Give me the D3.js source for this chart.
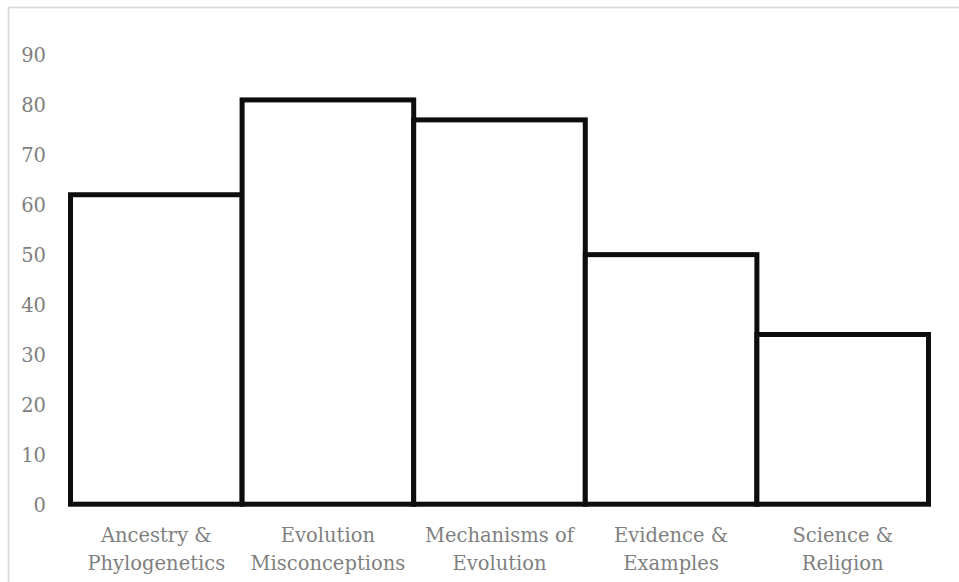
<!DOCTYPE html>
<html>
<head>
<meta charset="utf-8">
<script src="https://cdn.jsdelivr.net/npm/d3@7"></script>
<style>
  html, body { margin: 0; padding: 0; background: #ffffff; }
  svg { display: block; }
  .tick text, .cat-label { font-family: "DejaVu Serif", serif; fill: #7f7f7f; }
</style>
</head>
<body>
<svg id="chart" width="959" height="582"></svg>
<script>
// Topic categories (each label split over two lines)
const categories = [
  ["Ancestry &", "Phylogenetics"],
  ["Evolution", "Misconceptions"],
  ["Mechanisms of", "Evolution"],
  ["Evidence &", "Examples"],
  ["Science &", "Religion"]
];
const values = [62, 81, 77, 50, 34];
const yTicks = [0, 10, 20, 30, 40, 50, 60, 70, 80, 90];

const svg = d3.select("#chart");

// Chart area frame
svg.append("rect")
  .attr("x", 8.5).attr("y", 7.5)
  .attr("width", 1200).attr("height", 800)
  .attr("fill", "none")
  .attr("stroke", "#d9d9d9")
  .attr("stroke-width", 1.75);

const keys = categories.map(c => c.join(" "));

const x = d3.scaleBand()
  .domain(keys)
  .range([70.5, 928.5])
  .paddingInner(0)
  .paddingOuter(0);

const y = d3.scaleLinear()
  .domain([0, 90])
  .range([504.2, 55]);

// Y axis: labels only, no line or tick marks
const yAxis = svg.append("g")
  .attr("transform", "translate(46,0)")
  .call(d3.axisLeft(y).tickValues(yTicks).tickSize(0).tickPadding(0));
yAxis.select(".domain").remove();
yAxis.selectAll(".tick text")
  .attr("font-size", "19.5px")
  .attr("dy", "0.35em");

// Bars: white fill with heavy dark outline, touching each other
svg.append("g")
  .selectAll("rect")
  .data(values)
  .join("rect")
  .attr("x", (d, i) => x(keys[i]))
  .attr("y", d => y(d))
  .attr("width", x.bandwidth())
  .attr("height", d => y(0) - y(d))
  .attr("fill", "#ffffff")
  .attr("stroke", "#0d0d0d")
  .attr("stroke-width", 5)
  .attr("stroke-linejoin", "miter");

// Category labels (two lines, centered under each bar)
const labels = svg.append("g")
  .selectAll("text")
  .data(categories)
  .join("text")
  .attr("class", "cat-label")
  .attr("font-size", "19.5px")
  .attr("text-anchor", "middle")
  .attr("x", (d, i) => x(keys[i]) + x.bandwidth() / 2)
  .attr("y", 541.5);

labels.selectAll("tspan")
  .data(d => d)
  .join("tspan")
  .attr("x", function () { return d3.select(this.parentNode).attr("x"); })
  .attr("dy", (d, i) => i === 0 ? 0 : 28.5)
  .text(d => d);
</script>
</body>
</html>
